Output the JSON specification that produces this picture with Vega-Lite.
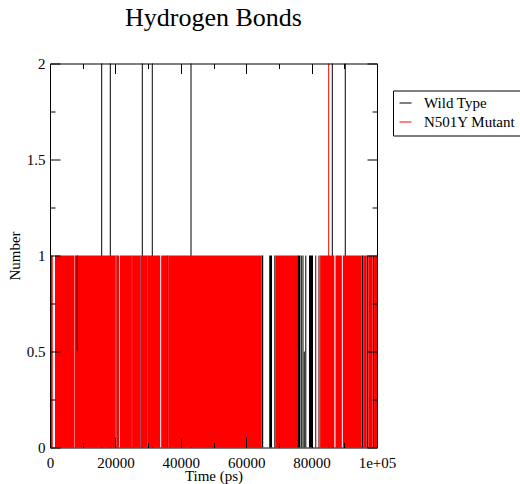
{
  "$schema": "https://vega.github.io/schema/vega-lite/v6.json",
  "autosize": {"type": "none"},
  "width": 327,
  "height": 384,
  "padding": {"left": 50, "top": 63.5, "right": 143, "bottom": 36.5},
  "background": "white",
  "title": {"text": "Hydrogen Bonds", "font": "Liberation Serif", "fontSize": 26, "fontWeight": "normal", "color": "black", "anchor": "middle", "baseline": "alphabetic", "offset": 5},
  "config": {
    "view": {"stroke": null},
    "legend": {"orient": "none", "legendX": 343, "legendY": 27, "padding": 5, "strokeColor": "black", "fillColor": "white", "labelFont": "Liberation Serif", "labelFontSize": 15, "labelColor": "black", "symbolSize": 144, "symbolStrokeWidth": 1, "labelOffset": 11, "rowPadding": 3, "symbolType": "stroke"}
  },
  "datasets": {
    "wildLines": [
      {"series": "Wild Type", "t": 15810, "y0": 0, "y1": 2},
      {"series": "Wild Type", "t": 18440, "y0": 0, "y1": 2},
      {"series": "Wild Type", "t": 28230, "y0": 0, "y1": 2},
      {"series": "Wild Type", "t": 31280, "y0": 0, "y1": 2},
      {"series": "Wild Type", "t": 43120, "y0": 0, "y1": 2},
      {"series": "Wild Type", "t": 86330, "y0": 0, "y1": 2},
      {"series": "Wild Type", "t": 90300, "y0": 0, "y1": 2},
      {"series": "Wild Type", "t": 76850, "y0": 0, "y1": 1},
      {"series": "Wild Type", "t": 77370, "y0": 0, "y1": 1},
      {"series": "Wild Type", "t": 82260, "y0": 0, "y1": 1},
      {"series": "Wild Type", "t": 98900, "y0": 0, "y1": 1},
      {"series": "Wild Type", "t": 77760, "y0": 0, "y1": 0.5}
    ],
    "wildBlocks": [
      {"series": "Wild Type", "t0": 20100, "t1": 20300},
      {"series": "Wild Type", "t0": 24900, "t1": 25100},
      {"series": "Wild Type", "t0": 27600, "t1": 27750},
      {"series": "Wild Type", "t0": 29800, "t1": 29950},
      {"series": "Wild Type", "t0": 35850, "t1": 36150},
      {"series": "Wild Type", "t0": 64700, "t1": 65200},
      {"series": "Wild Type", "t0": 67050, "t1": 67900},
      {"series": "Wild Type", "t0": 68600, "t1": 68900},
      {"series": "Wild Type", "t0": 75620, "t1": 76550},
      {"series": "Wild Type", "t0": 78070, "t1": 78380},
      {"series": "Wild Type", "t0": 79200, "t1": 80430},
      {"series": "Wild Type", "t0": 95300, "t1": 95800},
      {"series": "Wild Type", "t0": 96850, "t1": 97340}
    ],
    "mutantBlocks": [
      {"series": "N501Y Mutant", "t0": 0, "t1": 830},
      {"series": "N501Y Mutant", "t0": 1530, "t1": 7490},
      {"series": "N501Y Mutant", "t0": 7620, "t1": 20100},
      {"series": "N501Y Mutant", "t0": 20300, "t1": 21150},
      {"series": "N501Y Mutant", "t0": 21400, "t1": 24900},
      {"series": "N501Y Mutant", "t0": 25100, "t1": 27600},
      {"series": "N501Y Mutant", "t0": 27750, "t1": 29800},
      {"series": "N501Y Mutant", "t0": 29950, "t1": 33700},
      {"series": "N501Y Mutant", "t0": 34000, "t1": 35850},
      {"series": "N501Y Mutant", "t0": 36150, "t1": 64700},
      {"series": "N501Y Mutant", "t0": 68900, "t1": 75600},
      {"series": "N501Y Mutant", "t0": 81050, "t1": 81450},
      {"series": "N501Y Mutant", "t0": 82600, "t1": 86950},
      {"series": "N501Y Mutant", "t0": 87300, "t1": 89250},
      {"series": "N501Y Mutant", "t0": 89550, "t1": 95300},
      {"series": "N501Y Mutant", "t0": 95800, "t1": 96850},
      {"series": "N501Y Mutant", "t0": 97350, "t1": 98700},
      {"series": "N501Y Mutant", "t0": 99100, "t1": 100000}
    ],
    "topLines": [
      {"series": "N501Y Mutant", "t": 85230, "y0": 0, "y1": 2},
      {"series": "Wild Type", "t": 8350, "y0": 0.5, "y1": 1}
    ]
  },
  "resolve": {"axis": {"x": "independent", "y": "independent"}},
  "layer": [
    {
      "data": {"name": "wildLines"},
      "mark": {"type": "rule", "strokeWidth": 1},
      "encoding": {
        "x": {"field": "t", "type": "quantitative", "scale": {"domain": [0, 100000], "nice": false, "zero": false},
          "axis": {"orient": "bottom", "values": [0,10000,20000,30000,40000,50000,60000,70000,80000,90000,100000], "zindex": 1,
            "domain": true, "domainColor": "black", "domainWidth": 1, "grid": false,
            "tickColor": "black", "tickWidth": 1, "tickSize": {"condition": {"test": "datum.value % 20000 === 0", "value": -10}, "value": -5},
            "labelExpr": "datum.value % 20000 ? '' : (datum.value == 100000 ? '1e+05' : format(datum.value, 'd'))",
            "labelFont": "Liberation Serif", "labelFontSize": 15, "labelColor": "black", "labelPadding": 18, "labelFlush": false, "labelOverlap": false,
            "title": "Time (ps)", "titleFont": "Liberation Serif", "titleFontSize": 15, "titleFontWeight": "normal", "titleColor": "black", "titlePadding": -7}},
        "y": {"field": "y0", "type": "quantitative", "scale": {"domain": [0, 2], "nice": false, "zero": false},
          "axis": {"orient": "left", "values": [0,0.25,0.5,0.75,1,1.25,1.5,1.75,2], "zindex": 1,
            "domain": true, "domainColor": "black", "domainWidth": 1, "grid": false,
            "tickColor": "black", "tickWidth": 1, "tickSize": {"condition": {"test": "datum.value % 0.5 === 0", "value": -10}, "value": -5},
            "labelExpr": "datum.value % 0.5 ? '' : format(datum.value, '~g')",
            "labelFont": "Liberation Serif", "labelFontSize": 15, "labelColor": "black", "labelPadding": 15, "labelFlush": false, "labelOverlap": false,
            "title": "Number", "titleFont": "Liberation Serif", "titleFontSize": 15, "titleFontWeight": "normal", "titleColor": "black", "titlePadding": 4}},
        "y2": {"field": "y1"},
        "color": {"field": "series", "type": "nominal", "scale": {"domain": ["Wild Type", "N501Y Mutant"], "range": ["#000000", "#ff0000"]}, "legend": {"title": null, "symbolType": "stroke"}}
      }
    },
    {
      "data": {"name": "wildBlocks"},
      "mark": {"type": "rect"},
      "encoding": {
        "x": {"field": "t0", "type": "quantitative",
          "axis": {"orient": "top", "values": [0,10000,20000,30000,40000,50000,60000,70000,80000,90000,100000], "zindex": 1,
            "domain": true, "domainColor": "black", "domainWidth": 1, "grid": false, "labels": false, "title": null,
            "tickColor": "black", "tickWidth": 1, "tickSize": {"condition": {"test": "datum.value % 20000 === 0", "value": -10}, "value": -5}}},
        "x2": {"field": "t1"},
        "y": {"datum": 0, "type": "quantitative",
          "axis": {"orient": "right", "values": [0,0.25,0.5,0.75,1,1.25,1.5,1.75,2], "zindex": 1,
            "domain": true, "domainColor": "black", "domainWidth": 1, "grid": false, "labels": false, "title": null,
            "tickColor": "black", "tickWidth": 1, "tickSize": {"condition": {"test": "datum.value % 0.5 === 0", "value": -10}, "value": -5}}},
        "y2": {"datum": 1},
        "color": {"field": "series", "type": "nominal", "legend": null}
      }
    },
    {
      "data": {"name": "mutantBlocks"},
      "mark": {"type": "rect"},
      "encoding": {
        "x": {"field": "t0", "type": "quantitative", "axis": null},
        "x2": {"field": "t1"},
        "y": {"datum": 0, "type": "quantitative", "axis": null},
        "y2": {"datum": 1},
        "color": {"field": "series", "type": "nominal", "legend": null}
      }
    },
    {
      "data": {"name": "topLines"},
      "mark": {"type": "rule", "strokeWidth": 1},
      "encoding": {
        "x": {"field": "t", "type": "quantitative", "axis": null},
        "y": {"field": "y0", "type": "quantitative", "axis": null},
        "y2": {"field": "y1"},
        "color": {"field": "series", "type": "nominal", "legend": null}
      }
    }
  ]
}
